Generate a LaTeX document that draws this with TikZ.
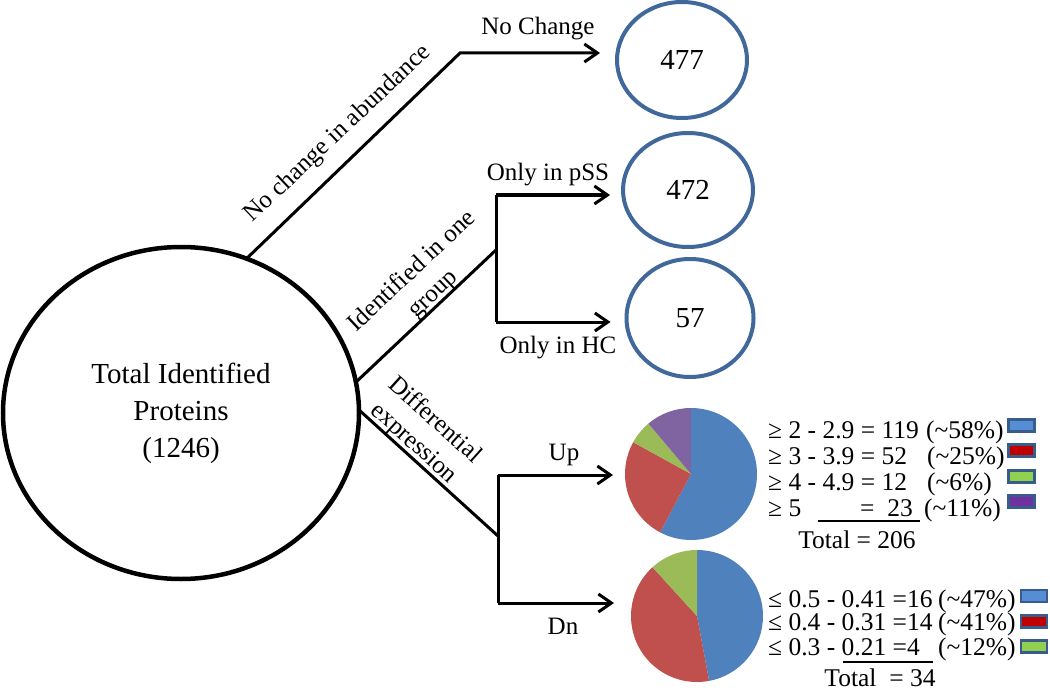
\documentclass[tikz,border=0pt]{standalone}
\usepackage{fontspec}
\setmainfont{Liberation Serif}
\usetikzlibrary{arrows.meta,shapes.geometric}
\definecolor{ringblue}{HTML}{41689B}
\definecolor{keyedge}{HTML}{385D8A}
\definecolor{pieblue}{HTML}{4F81BD}
\definecolor{piered}{HTML}{C0504D}
\definecolor{piegreen}{HTML}{9BBB59}
\definecolor{piepurple}{HTML}{8064A2}
\definecolor{keyblue}{HTML}{558ED5}
\definecolor{keyred}{HTML}{C00000}
\definecolor{keygreen}{HTML}{92D050}
\definecolor{keypurple}{HTML}{7030A0}
\begin{document}
\begin{tikzpicture}[x=1pt,y=-1pt,
  conn/.style={line width=3pt, line join=miter},
  arr/.style={conn, -{Straight Barb[length=13pt,width=18pt,line width=3pt]}},
  ring/.style={ellipse, draw=ringblue, line width=4pt, outer sep=0pt, inner sep=0pt,
    minimum width=130pt, minimum height=116pt, font=\fontsize{29}{34}\selectfont},
  lbl/.style={font=\fontsize{25}{31}\selectfont, inner sep=0pt},
  leg/.style={font=\fontsize{25.5}{28}\selectfont, inner sep=0pt, anchor=base west},
  keybox/.style={draw=keyedge, line width=2.5pt, minimum width=26pt, minimum height=12pt, inner sep=0pt},
  pienode/.style={circle, minimum size=132pt, inner sep=0pt, outer sep=0pt},
]
\useasboundingbox (0,0) rectangle (1050,690);

% main circle
\node[ellipse, draw, line width=4.5pt, outer sep=0pt, minimum width=356pt, minimum height=332pt,
  align=center, font=\fontsize{29}{37}\selectfont] (big) at (181,413)
  {Total Identified\\Proteins\\(1246)};

% result ellipses
\node[ring] (e477) at (682,60) {477};
\node[ring, minimum height=114pt] (e472) at (688,190) {472};
\node[ring, minimum width=127pt, minimum height=118pt] (e57) at (690,318) {57};

% pies
\node[pienode] (uppie) at (691,474) {};
\node[pienode] (dnpie) at (697,616) {};
\fill[pieblue]   (uppie.center) -- ++(-90:66) arc[start angle=-90, end angle=117.96, radius=66] -- cycle;
\fill[piered]    (uppie.center) -- ++(117.96:66) arc[start angle=117.96, end angle=208.83, radius=66] -- cycle;
\fill[piegreen]  (uppie.center) -- ++(208.83:66) arc[start angle=208.83, end angle=229.81, radius=66] -- cycle;
\fill[piepurple] (uppie.center) -- ++(229.81:66) arc[start angle=229.81, end angle=270, radius=66] -- cycle;
\fill[pieblue]   (dnpie.center) -- ++(-90:66) arc[start angle=-90, end angle=79.41, radius=66] -- cycle;
\fill[piered]    (dnpie.center) -- ++(79.41:66) arc[start angle=79.41, end angle=227.65, radius=66] -- cycle;
\fill[piegreen]  (dnpie.center) -- ++(227.65:66) arc[start angle=227.65, end angle=270, radius=66] -- cycle;

% bend coordinates
\coordinate (b1) at (460,53);
\coordinate (b2) at (496,250);
\coordinate (b2t) at (496,195);
\coordinate (b2b) at (496,322);
\coordinate (b3) at (498,536);
\coordinate (b3t) at (498,475);
\coordinate (b3b) at (498,603);

% connectors
\draw[arr, shorten >=17pt] (big.67.8) -- (b1) -- (b1 -| e477.west);
\draw[conn] (big.10.6) -- (b2);
\draw[conn] (b2t) -- (b2b);
\draw[arr, shorten >=13pt] (b2t) -- (b2t -| e472.west);
\draw[arr, shorten >=16pt] (b2b) -- (b2b -| e57.west);
\draw[conn] (big.1) -- (b3);
\draw[conn] (b3t) -- (b3b);
\draw[arr, shorten >=12pt] (b3t) -- (b3t -| uppie.west);
\draw[arr, shorten >=17pt] (b3b) -- (b3b -| dnpie.west);

% labels
\node[lbl, anchor=base] (lnc) at (538,35) {No Change};
\node[lbl, anchor=base] (lpss) at (548,180) {Only in pSS};
\node[lbl, anchor=base] (lhc) at (558,353) {Only in HC};
\node[lbl, anchor=base] (lup) at (564,460) {Up};
\node[lbl, anchor=base] (ldn) at (563,634) {Dn};
\node[lbl, rotate=43.4] (labund) at (338,134) {No change in abundance};
\node[lbl, rotate=43.3, align=center] (lident) at (423,283) {Identified in one\\group};
\node[lbl, rotate=-42, align=center] (ldiff) at (424,432) {Differential\\expression};

% Up legend
\node[leg] (u1) at (768,438) {≥ 2 - 2.9 = 119};
\node[leg] (u1p) at (926,438) {(\textasciitilde 58\%)};
\node[leg] (u2) at (768,464) {≥ 3 - 3.9 = 52};
\node[leg] (u2p) at (927,464) {(\textasciitilde 25\%)};
\node[leg] (u3) at (768,490) {≥ 4 - 4.9 = 12};
\node[leg] (u3p) at (927,490) {(\textasciitilde 6\%)};
\node[leg] (u4) at (768,516) {≥ 5};
\node[leg, anchor=base east] (u4n) at (913,516) {= \ 23};
\node[leg] (u4p) at (924,516) {(\textasciitilde 11\%)};
\draw[line width=1.8pt] (818,521) -- (920,521);
\node[leg, anchor=base] (utot) at (857,548) {Total = 206};
\node[keybox, fill=keyblue] (k1) at (1021.5,425.5) {};
\node[keybox, fill=keyred] (k2) at (1021.5,450.5) {};
\node[keybox, fill=keygreen] (k3) at (1021.5,476.5) {};
\node[keybox, fill=keypurple] (k4) at (1021.5,501.5) {};

% Dn legend
\node[leg] (d1) at (768,607) {≤ 0.5 - 0.41 =16};
\node[leg] (d1p) at (938,607) {(\textasciitilde 47\%)};
\node[leg] (d2) at (768,630) {≤ 0.4 - 0.31 =14};
\node[leg] (d2p) at (938,630) {(\textasciitilde 41\%)};
\node[leg] (d3) at (768,655) {≤ 0.3 - 0.21 =4};
\node[leg] (d3p) at (938,655) {(\textasciitilde 12\%)};
\draw[line width=1.8pt] (843,662) -- (933,662);
\node[leg, anchor=base] (dtot) at (880,686) {Total \ = 34};
\node[keybox, fill=keyblue] (k5) at (1034,596) {};
\node[keybox, fill=keyred] (k6) at (1034,621.5) {};
\node[keybox, fill=keygreen] (k7) at (1034,646.5) {};
\end{tikzpicture}
\end{document}
